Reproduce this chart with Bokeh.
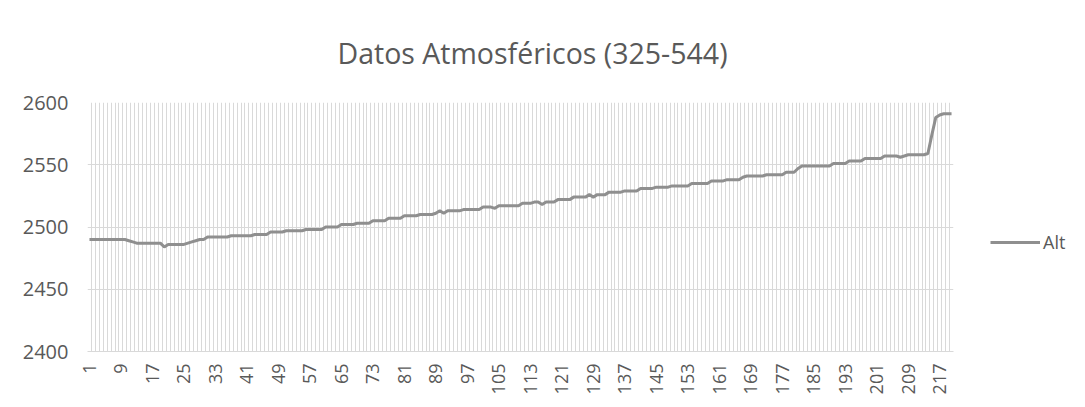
import math
from bokeh.plotting import figure
from bokeh.models import Range1d, FixedTicker, Legend, LegendItem, ColumnDataSource
from bokeh.embed import file_html
from bokeh.resources import INLINE

title_text = "Datos Atmosféricos (325-544)"
series_name = "Alt"

alt = [
    2490, 2490, 2490, 2490, 2490, 2490, 2490, 2490, 2490, 2490,
    2489, 2488, 2487, 2487, 2487, 2487, 2487, 2487, 2487, 2484,
    2486, 2486, 2486, 2486, 2486, 2487, 2488, 2489, 2490, 2490,
    2492, 2492, 2492, 2492, 2492, 2492, 2493, 2493, 2493, 2493,
    2493, 2493, 2494, 2494, 2494, 2494, 2496, 2496, 2496, 2496,
    2497, 2497, 2497, 2497, 2497, 2498, 2498, 2498, 2498, 2498,
    2500, 2500, 2500, 2500, 2502, 2502, 2502, 2502, 2503, 2503,
    2503, 2503, 2505, 2505, 2505, 2505, 2507, 2507, 2507, 2507,
    2509, 2509, 2509, 2509, 2510, 2510, 2510, 2510, 2511, 2513,
    2511, 2513, 2513, 2513, 2513, 2514, 2514, 2514, 2514, 2514,
    2516, 2516, 2516, 2515, 2517, 2517, 2517, 2517, 2517, 2517,
    2519, 2519, 2519, 2520, 2520, 2518, 2520, 2520, 2520, 2522,
    2522, 2522, 2522, 2524, 2524, 2524, 2524, 2526, 2524, 2526,
    2526, 2526, 2528, 2528, 2528, 2528, 2529, 2529, 2529, 2529,
    2531, 2531, 2531, 2531, 2532, 2532, 2532, 2532, 2533, 2533,
    2533, 2533, 2533, 2535, 2535, 2535, 2535, 2535, 2537, 2537,
    2537, 2537, 2538, 2538, 2538, 2538, 2540, 2541, 2541, 2541,
    2541, 2541, 2542, 2542, 2542, 2542, 2542, 2544, 2544, 2544,
    2547, 2549, 2549, 2549, 2549, 2549, 2549, 2549, 2549, 2551,
    2551, 2551, 2551, 2553, 2553, 2553, 2553, 2555, 2555, 2555,
    2555, 2555, 2557, 2557, 2557, 2557, 2556, 2557, 2558, 2558,
    2558, 2558, 2558, 2559, 2574, 2588, 2590, 2591, 2591, 2591,
]
categories = list(range(1, len(alt) + 1))
x_tick_labels = categories[::8]
y_ticks = [2400, 2450, 2500, 2550, 2600]

FONT = "Open Sans"
TEXT = "#595959"
GRID = "#d9d9d9"

src = ColumnDataSource(dict(x=categories, y=alt))

p = figure(frame_width=866, frame_height=249, output_backend="svg", toolbar_location=None,
           x_range=Range1d(0.5, len(alt) + 0.5), y_range=Range1d(y_ticks[0], y_ticks[-1]),
           min_border_left=87, min_border_right=125, min_border_top=102, min_border_bottom=48,
           title=title_text)
p.background_fill_color = "white"
p.border_fill_color = "white"
p.outline_line_color = None

p.title.align = "left"
p.title.offset = 250
p.title.text_font = FONT
p.title.text_font_size = "28.5px"
p.title.text_font_style = "normal"
p.title.text_color = TEXT
p.title.standoff = 61

r = p.line(x="x", y="y", source=src, line_color="#8f8f8f", line_width=3)

# axes
p.xaxis.ticker = FixedTicker(ticks=x_tick_labels)
p.xaxis.major_label_orientation = math.pi / 2
p.xaxis.major_label_text_font = FONT
p.xaxis.major_label_text_font_size = "18px"
p.xaxis.major_label_text_color = TEXT
p.xaxis.major_label_standoff = 6
p.xaxis.axis_line_color = GRID
p.xaxis.major_tick_line_color = None
p.xaxis.minor_tick_line_color = None

p.yaxis.ticker = FixedTicker(ticks=y_ticks)
p.yaxis.major_label_text_font = FONT
p.yaxis.major_label_text_font_size = "20px"
p.yaxis.major_label_text_color = TEXT
p.yaxis.major_label_standoff = 13
p.yaxis.axis_line_color = None
p.yaxis.major_tick_line_color = None
p.yaxis.minor_tick_line_color = None

# grids
p.xgrid.ticker = FixedTicker(ticks=[c - 0.5 for c in categories] + [categories[-1] + 0.5])
p.xgrid.grid_line_color = GRID
p.xgrid.grid_line_width = 1
p.ygrid.grid_line_color = GRID
p.ygrid.grid_line_width = 1

legend = Legend(items=[LegendItem(label=series_name, renderers=[r])], location=(37, 97))
legend.border_line_color = None
legend.background_fill_alpha = 0
legend.glyph_width = 50
legend.label_standoff = 3
legend.padding = 0
legend.margin = 0
legend.label_text_font = FONT
legend.label_text_font_size = "18px"
legend.label_text_color = TEXT
p.add_layout(legend, "right")

open("out.html", "w").write(file_html(p, INLINE))
